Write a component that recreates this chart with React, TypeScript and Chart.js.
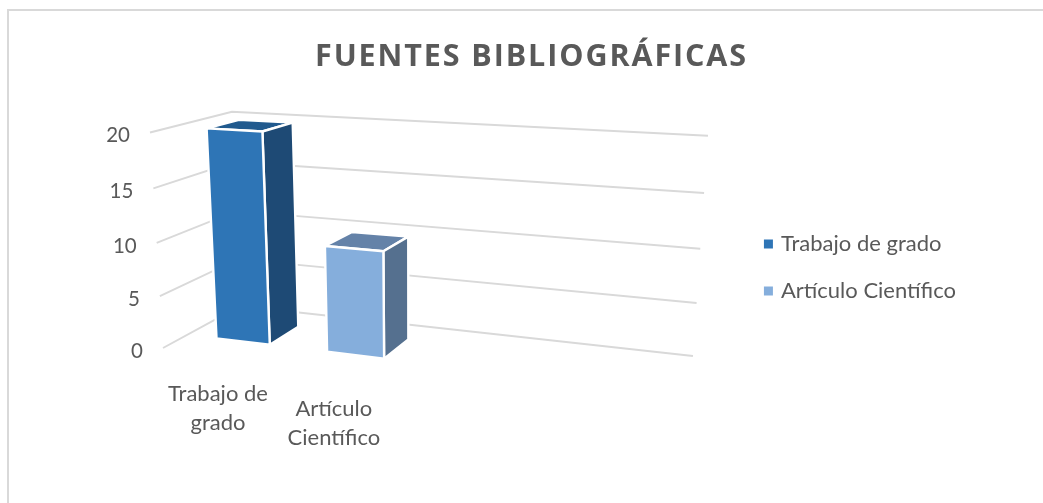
import React, { useEffect, useRef } from "react";
import { Chart, registerables } from "chart.js";

Chart.register(...registerables);

const categories = ["Trabajo de grado", "Artículo Científico", "", ""];
const values = [20, 10, null, null];
const titleText = "FUENTES BIBLIOGRÁFICAS";
const frontColors = ["#2E75B6", "#85AEDC"];
const sideColors = ["#1E4A75", "#55708F"];
const topColors = ["#215A8E", "#6482A8"];
const gridColor = "#D9D9D9";
const textColor = "#595959";
const fontFamily = "Lato, 'Open Sans', sans-serif";
const titleFamily = "'Open Sans', Lato, sans-serif";
const barDepth = [0.32, 0.73];

// camera: maps plot fractions (u along categories, v along values, w into depth) to the page
function project(u: number, v: number, w: number): [number, number] {
  const hx = 163 + 409.8 * u - 20.44 * v + 104.5 * w;
  const hy = 348 + 6.86 * u - 222.1 * v - 6.876 * w;
  const hw = 1 - 0.1372 * u - 0.0496 * v + 0.1146 * w;
  return [hx / hw, hy / hw];
}

function poly(ctx: CanvasRenderingContext2D, pts: [number, number][], fill: string) {
  ctx.beginPath();
  pts.forEach((p, i) => (i ? ctx.lineTo(p[0], p[1]) : ctx.moveTo(p[0], p[1])));
  ctx.closePath();
  ctx.fillStyle = fill;
  ctx.fill();
  ctx.strokeStyle = "#FFFFFF";
  ctx.lineWidth = 2.4;
  ctx.lineJoin = "round";
  ctx.stroke();
}

function wrap(ctx: CanvasRenderingContext2D, text: string, maxWidth: number): string[] {
  const lines: string[] = [];
  let cur = "";
  text.split(" ").forEach((word) => {
    const next = cur ? cur + " " + word : word;
    if (cur && ctx.measureText(next).width > maxWidth) {
      lines.push(cur);
      cur = word;
    } else cur = next;
  });
  if (cur) lines.push(cur);
  return lines;
}

const perspectivePlugin = {
  id: "perspective",
  afterLayout(chart: any) {
    const block = chart.titleBlock;
    if (block && !block.__spaced) {
      const draw = block.draw.bind(block);
      block.draw = (...args: any[]) => {
        chart.ctx.letterSpacing = "1.9px";
        draw(...args);
        chart.ctx.letterSpacing = "0px";
      };
      block.__spaced = true;
    }
  },
  beforeDraw(chart: any) {
    const { ctx, width, height } = chart;
    ctx.save();
    ctx.fillStyle = "#FFFFFF";
    ctx.fillRect(0, 0, width, height);
    ctx.strokeStyle = gridColor;
    ctx.lineWidth = 2;
    ctx.beginPath();
    ctx.moveTo(8, height);
    ctx.lineTo(8, 10);
    ctx.lineTo(width, 10);
    ctx.stroke();
    ctx.restore();
  },
  beforeDatasetsDraw(chart: any) {
    const { ctx, scales } = chart;
    const y = scales.y;
    const x = scales.x;
    ctx.save();
    ctx.font = `20.5px ${fontFamily}`;
    ctx.fillStyle = textColor;
    ctx.strokeStyle = gridColor;
    ctx.lineWidth = 1.9;
    y.ticks.forEach((t: any) => {
      const v = (y.bottom - y.getPixelForValue(t.value)) / (y.bottom - y.top);
      const a = project(0, v, 0);
      const b = project(0, v, 1);
      const c = project(1, v, 1);
      ctx.beginPath();
      ctx.moveTo(a[0], a[1]);
      ctx.lineTo(b[0], b[1]);
      ctx.lineTo(c[0], c[1]);
      ctx.stroke();
      ctx.textAlign = "right";
      ctx.textBaseline = "middle";
      ctx.fillText(String(t.value), a[0] - 20, a[1] + 3);
    });
    ctx.font = `22px ${fontFamily}`;
    ctx.textAlign = "center";
    ctx.textBaseline = "middle";
    x.ticks.forEach((t: any) => {
      const label = x.getLabelForValue(t.value);
      if (!label) return;
      const u = (x.getPixelForValue(t.value) - x.left) / (x.right - x.left);
      const p = project(u, 0, 0);
      wrap(ctx, label, 125).forEach((line, k) => {
        ctx.fillText(line, p[0], p[1] + 39 + k * 29);
      });
    });
    ctx.restore();
  },
  afterDatasetsDraw(chart: any) {
    const { ctx, scales } = chart;
    const x = scales.x;
    const y = scales.y;
    const [w0, w1] = barDepth;
    ctx.save();
    ctx.translate(0, 1.5);
    chart.getDatasetMeta(0).data.forEach((el: any, i: number) => {
      if (values[i] == null) return;
      const span = x.right - x.left;
      const u0 = (el.x - el.width / 2 - x.left) / span;
      const u1 = (el.x + el.width / 2 - x.left) / span;
      const vt = (y.bottom - el.y) / (y.bottom - y.top);
      const vb = 0;
      const c = i % frontColors.length;
      poly(ctx, [project(u0, vt, w0), project(u1, vt, w0), project(u1, vt, w1), project(u0, vt, w1)], topColors[c]);
      poly(ctx, [project(u1, vb, w0), project(u1, vt, w0), project(u1, vt, w1), project(u1, vb, w1)], sideColors[c]);
      poly(ctx, [project(u0, vb, w0), project(u1, vb, w0), project(u1, vt, w0), project(u0, vt, w0)], frontColors[c]);
    });
    ctx.restore();
  },
};

export default function App() {
  const ref = useRef<HTMLCanvasElement | null>(null);
  useEffect(() => {
    const chart = new Chart(ref.current as HTMLCanvasElement, {
      type: "bar",
      data: {
        labels: categories,
        datasets: [
          {
            label: titleText,
            data: values,
            backgroundColor: "transparent",
            borderWidth: 0,
            barPercentage: 0.49,
            categoryPercentage: 1,
          },
        ],
      },
      options: {
        animation: false,
        responsive: false,
        layout: { padding: { left: 97, right: 77, top: 32, bottom: 0 } },
        scales: {
          x: { display: false },
          y: { display: false, min: 0, max: 20, ticks: { stepSize: 5 } },
        },
        plugins: {
          tooltip: { enabled: false },
          title: {
            display: true,
            text: titleText,
            color: textColor,
            font: { family: titleFamily, size: 30.5, weight: "bold" },
            padding: { top: 7, bottom: 14 },
          },
          legend: {
            display: true,
            position: "right",
            labels: {
              color: textColor,
              font: { family: fontFamily, size: 22 },
              boxWidth: 3,
              boxHeight: 3,
              padding: 25,
              generateLabels: () =>
                categories
                  .filter((c) => c)
                  .map((c, i) => ({
                    text: c,
                    fillStyle: frontColors[i],
                    strokeStyle: frontColors[i],
                    lineWidth: 6,
                    fontColor: textColor,
                    index: i,
                  })),
            },
          },
        },
      },
      plugins: [perspectivePlugin],
    } as any);
    return () => chart.destroy();
  }, []);
  return (
    <div style={{ position: "fixed", left: 0, top: 0, width: 1043, height: 503, background: "#fff" }}>
      <canvas ref={ref} width={1043} height={503} style={{ display: "block" }} />
    </div>
  );
}
